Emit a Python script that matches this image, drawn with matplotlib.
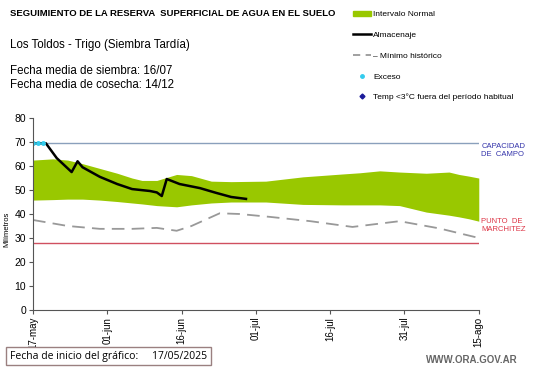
import matplotlib.pyplot as plt
from matplotlib.lines import Line2D
from matplotlib.patches import Patch

plt.rcParams['font.family'] = ['Liberation Sans', 'DejaVu Sans']

# dias desde el 17-may
band_days = [0, 4, 7, 10, 13.5, 17, 20, 22, 25, 29, 32, 36, 40, 47, 54.5, 62.5, 66, 70, 74, 79.4, 84, 86, 88, 90]
band_upper = [62.5, 63, 62.5, 61, 59, 57, 55, 54, 54, 56.5, 56, 53.7, 53.5, 53.7, 55.5, 56.7, 57.2, 58, 57.5, 57, 57.5, 56.5, 55.8, 55]
band_lower = [45.8, 46, 46.2, 46.2, 45.8, 45.2, 44.6, 44.2, 43.5, 43, 43.8, 44.6, 45, 45, 44, 43.8, 43.8, 43.8, 43.5, 40.8, 39.5, 38.8, 38, 37]

min_days = [0, 7, 13.5, 20, 25, 29, 32, 37.7, 41.7, 47.8, 56, 64.5, 74, 82, 90]
min_hist = [37.5, 35, 33.8, 33.8, 34.2, 33, 35, 40.3, 40, 38.8, 37, 34.6, 37, 34, 30]

alm_days = [0, 2.6, 4.8, 7.8, 9, 10, 13.5, 17, 20, 23.6, 25, 26, 27, 29.6, 33.7, 37, 40, 43]
almacenaje = [69.5, 69.5, 63.3, 57.5, 62, 59.5, 55.5, 52.5, 50.4, 49.6, 49, 47.5, 54.6, 52.5, 50.8, 48.8, 47.1, 46.3]

exceso_days = [0, 1, 2]
exceso = [69.5, 69.5, 69.5]

capacidad_campo = 69.5
punto_marchitez = 28

tick_days = [0, 15, 30, 45, 60, 75, 90]
tick_labels = ["17-may", "01-jun", "16-jun", "01-jul", "16-jul", "31-jul", "15-ago"]

verde = "#99c800"

fig = plt.figure(figsize=(5.41, 3.68), dpi=100)
ax = fig.add_axes([0.061, 0.158, 0.824, 0.521])

ax.fill_between(band_days, band_lower, band_upper, color=verde, lw=0)
ax.axhline(capacidad_campo, color="#8aa0bc", lw=1)
ax.axhline(punto_marchitez, color="#d05060", lw=1)
ax.plot(min_days, min_hist, color="#999999", lw=1.3, dashes=(7, 4))
ax.plot(alm_days, almacenaje, color="black", lw=1.8)
ax.plot(exceso_days, exceso, ls="none", marker="o", ms=2.5, color="#33ccee")

ax.set_xlim(0, 90)
ax.set_ylim(0, 80)
ax.set_yticks(range(0, 81, 10))
ax.set_xticks(tick_days)
ax.set_xticklabels(tick_labels, rotation=90, fontsize=7)
ax.tick_params(axis="y", labelsize=7.5, length=3, color="#555555", pad=2)
ax.tick_params(axis="x", length=3, color="#555555", pad=2)
for s in ["top", "right"]:
    ax.spines[s].set_visible(False)
for s in ["left", "bottom"]:
    ax.spines[s].set_color("#555555")
ax.set_ylabel("Milímetros", fontsize=5.5)
ax.yaxis.set_label_coords(-0.05, 0.42)

ax.text(90.5, capacidad_campo, "CAPACIDAD\nDE  CAMPO", color="#3333aa", fontsize=5.5,
        va="top", ha="left")
ax.text(90.5, 38.5, "PUNTO  DE\nMARCHITEZ", color="#dd3344", fontsize=5.5,
        va="top", ha="left")

fig.text(10 / 541, 1 - 14 / 368, "SEGUIMIENTO DE LA RESERVA  SUPERFICIAL DE AGUA EN EL SUELO",
         fontsize=6.8, fontweight="bold", va="center")
fig.text(10 / 541, 1 - 45 / 368, "Los Toldos - Trigo (Siembra Tardía)", fontsize=8.3, va="center")
fig.text(10 / 541, 1 - 71 / 368, "Fecha media de siembra: 16/07", fontsize=8.3, va="center")
fig.text(10 / 541, 1 - 85 / 368, "Fecha media de cosecha: 14/12", fontsize=8.3, va="center")

handles = [
    Patch(color=verde, label="Intervalo Normal"),
    Line2D([], [], color="black", lw=1.8, label="Almacenaje"),
    Line2D([], [], color="#999999", lw=1.3, dashes=(4, 3), label="– Mínimo histórico"),
    Line2D([], [], ls="none", marker="o", ms=2.5, color="#33ccee", label="Exceso"),
    Line2D([], [], ls="none", marker="D", ms=2.5, color="#1a1a99", label="Temp <3°C fuera del período habitual"),
]
fig.legend(handles=handles, loc="upper left", bbox_to_anchor=(345 / 541, 1 - 3 / 368),
           frameon=False, fontsize=6, labelspacing=1.55, handlelength=2.2, handletextpad=0.3)

fig.text(10 / 541, 1 - 356 / 368, "Fecha de inicio del gráfico:     17/05/2025", fontsize=7.5,
         va="center", family="Open Sans",
         bbox=dict(boxstyle="square,pad=0.35", fc="white", ec="#9a8080", lw=1))
fig.text(518 / 541, 1 - 360 / 368, "WWW.ORA.GOV.AR", fontsize=7, fontweight="bold",
         color="#666666", va="center", ha="right")

fig.savefig("out.png", dpi=100)
